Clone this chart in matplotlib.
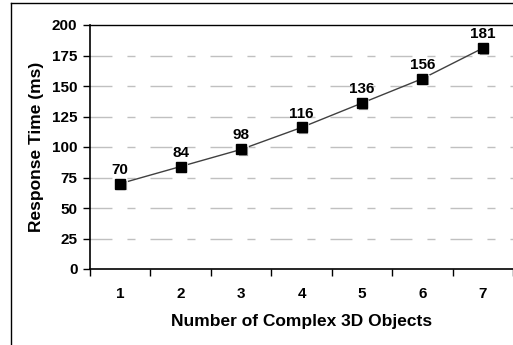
import matplotlib
matplotlib.use("Agg")
import matplotlib.pyplot as plt
from matplotlib.lines import Line2D
import matplotlib.transforms as mtrans

categories = ["1", "2", "3", "4", "5", "6", "7"]
response_ms = [70, 84, 98, 116, 136, 156, 181]
y_ticks = [0, 25, 50, 75, 100, 125, 150, 175, 200]

plt.rcParams['font.family'] = ['Liberation Sans', 'DejaVu Sans']
plt.rcParams['font.weight'] = 'bold'
plt.rcParams['lines.scale_dashes'] = False

W, H = 513, 345
fig = plt.figure(figsize=(W / 100, H / 100), dpi=100)
ax = fig.add_axes([90 / W, 1 - 269 / H, (513 - 90) / W, (269 - 25) / H])

x = list(range(len(categories)))
ax.plot(x, response_ms, color='#404040', lw=1.0, zorder=3)
# shadow markers
shadow = ax.transData + mtrans.ScaledTranslation(1.5 / 100, -1.5 / 100, fig.dpi_scale_trans)
ax.plot(x, response_ms, ls='none', marker='s', ms=6.5, mfc='#999999', mec='white', mew=0.6,
        transform=shadow, zorder=4)
ax.plot(x, response_ms, ls='none', marker='s', ms=6.5, mfc='black', mec='black', zorder=5)

for xi, v in zip(x, response_ms):
    ax.annotate(str(v), (xi, v), xytext=(0, 5), textcoords='offset points',
                ha='center', va='bottom', fontsize=11, fontweight='bold')

ax.set_xlim(-0.5, len(categories) - 0.5)
ax.set_ylim(0, 200)
ax.set_yticks(y_ticks)
ax.set_yticklabels([str(t) for t in y_ticks], fontsize=11, fontweight='bold')
ax.set_xticks(x)
ax.set_xticklabels(categories, fontsize=11, fontweight='bold')
ax.set_xticks([i - 0.5 for i in range(len(categories) + 1)], minor=True)
ax.tick_params(axis='x', which='major', length=0, pad=13)
ax.tick_params(axis='x', which='minor', length=5, width=1, direction='out')
ax.tick_params(axis='y', which='major', length=5, width=1, direction='out', pad=4)

for t in y_ticks[1:-1]:
    ax.axhline(t, color='#c0c0c0', lw=1.0, ls=(0, (15.8, 10.8, 5.8, 10.8)), zorder=1)

ax.spines['right'].set_visible(False)
ax.spines['top'].set_color('black')
ax.spines['top'].set_linewidth(1.0)
for s in ['left', 'bottom']:
    ax.spines[s].set_linewidth(1.2)

ax.set_xlabel("Number of Complex 3D Objects", fontsize=12.5, fontweight='bold', labelpad=9)
ax.set_ylabel("Response Time (ms)", fontsize=12.5, fontweight='bold', labelpad=6)

# outer chart frame (cut off on right and bottom)
fig.add_artist(Line2D([11 / W, 11 / W], [0, 1 - 3 / H], transform=fig.transFigure, color='black', lw=1.0))
fig.add_artist(Line2D([11 / W, 1], [1 - 3 / H, 1 - 3 / H], transform=fig.transFigure, color='black', lw=1.0))

fig.savefig("out.png", dpi=100)
